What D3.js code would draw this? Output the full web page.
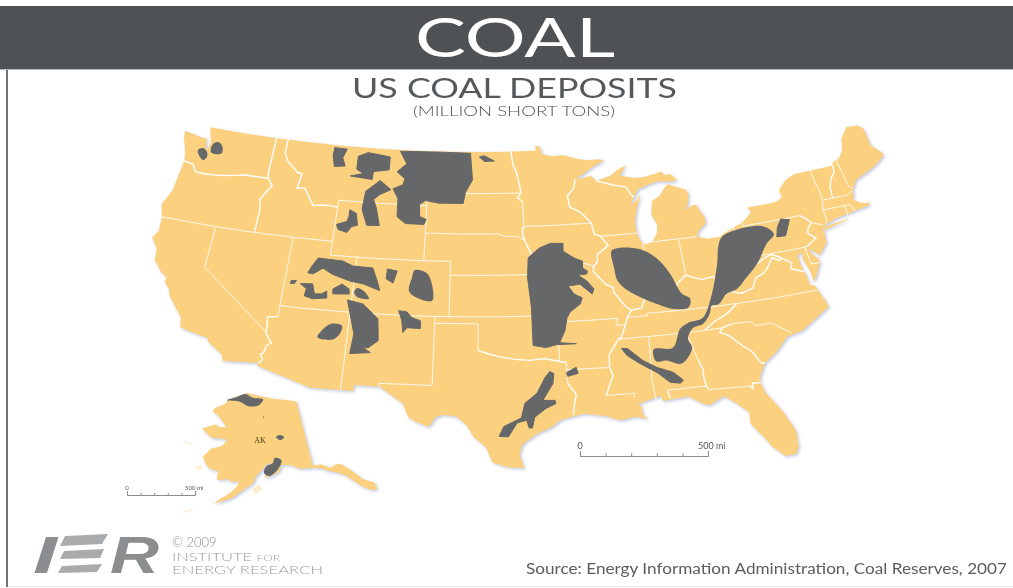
<!DOCTYPE html>
<html lang="en">
  <head>
    <meta charset="UTF-8" />
    <title>US Coal Deposits</title>
    <style>
      html, body { margin: 0; padding: 0; background: #fff; }
      svg { display: block; font-family: Lato, "Open Sans", sans-serif; filter: blur(0.35px); }
    </style>
  </head>
  <body>
    <svg width="1013" height="588" viewBox="0 0 1013 588"></svg>

    <script src="https://d3js.org/d3.v7.min.js"></script>
    <script>
      // All map data is [longitude, latitude]
      const usLand = [
        [-124.7,48.4],[-123.1,48.15],[-122.75,48.15],[-122.55,47.5],[-122.4,47.35],[-122.3,47.9],[-122.5,48.4],[-122.75,49],
        [-120,49],[-117,49],[-114,49],[-111,49],[-108,49],[-105,49],[-102,49],[-99,49],[-97,49],[-95.15,49],[-95.15,49.38],[-94.8,49.3],[-94.6,48.72],
        [-93.8,48.55],[-92.9,48.6],[-92,48.3],[-91,48.1],[-90,48.1],[-89.5,48],[-90.5,47.6],[-91.5,47.05],[-92.1,46.75],[-91.2,46.85],[-90.8,46.95],
        [-90.4,46.55],[-89.2,46.85],[-88.4,47.3],[-87.8,47.45],[-88.3,46.95],[-88.45,46.78],[-87.4,46.5],[-86.5,46.5],[-85,46.75],[-84.9,46.48],[-84.4,46.5],
        [-84.1,46.2],[-83.9,45.95],[-84.7,45.95],[-85.5,46.08],[-86.3,45.9],[-86.9,45.7],[-87.05,45.78],[-87.6,45.1],[-88,44.55],[-87.4,44.9],[-87.05,45.25],
        [-87.5,44.3],[-87.8,43.5],[-87.85,43],[-87.8,42.3],[-87.55,41.7],[-87.2,41.65],[-86.8,41.75],[-86.3,42.4],[-86.2,43],[-86.5,43.7],[-86.25,44.7],
        [-85.6,45],[-85.1,45.5],[-84.75,45.78],[-84.1,45.5],[-83.4,45.2],[-83.3,44.8],[-83.55,44.05],[-83.9,43.7],[-83.3,44],[-82.9,44.05],[-82.45,43],
        [-82.5,42.6],[-83.1,42.2],[-83.4,41.75],[-82.7,41.5],[-81.7,41.5],[-81.2,41.75],[-80.1,42.15],[-79.76,42.27],[-78.9,42.85],[-79.05,43.27],
        [-77.6,43.27],[-76.8,43.3],[-76.2,43.55],[-76.25,44.1],[-75.5,44.7],[-74.7,45],[-73,45],[-71.5,45],[-71.4,45.25],[-70.8,45.4],[-70.3,45.9],[-70,46.7],
        [-69.2,47.45],[-68.3,47.35],[-67.95,47.05],[-67.95,45.7],[-67.6,45.3],[-67.3,44.85],[-68.2,44.3],[-69,44],[-70.2,43.6],[-70.7,43.05],[-70.8,42.7],
        [-71,42.3],[-70.6,41.95],[-70.05,41.8],[-70,42.05],[-69.95,41.67],[-70.65,41.55],[-71.2,41.5],[-71.4,41.45],[-72.9,41.25],[-73.65,41],[-74,40.7],
        [-74,40.45],[-74.1,39.75],[-74.9,38.95],[-75.15,39.2],[-75.55,39.6],[-75.4,39.1],[-75.1,38.75],[-75.05,38.45],[-75.6,37.6],[-75.95,37.15],
        [-75.95,37.9],[-76.2,38.9],[-76.1,39.4],[-76.5,39.2],[-76.45,38.5],[-76.4,38.1],[-76.3,37.6],[-76.3,37],[-75.97,36.9],[-75.75,36.2],[-75.5,35.25],
        [-76.5,34.65],[-77.8,33.9],[-78.9,33.65],[-79.9,32.7],[-80.85,32.05],[-81.4,31.1],[-81.45,30.7],[-81.3,29.9],[-80.55,28.45],[-80.05,26.9],
        [-80.15,25.75],[-80.4,25.2],[-81.1,25.15],[-81.75,25.95],[-82.1,26.7],[-82.75,27.85],[-82.65,28.7],[-83.4,29.55],[-84,30.1],[-85,29.6],[-85.4,29.7],
        [-86.3,30.38],[-87.5,30.3],[-88,30.25],[-88.05,30.65],[-88.9,30.4],[-89.6,30.2],[-89.4,30],[-89.4,29.4],[-89.1,29.05],[-89.9,29.3],[-90.9,29.1],
        [-91.8,29.5],[-93.2,29.77],[-94.7,29.4],[-95.2,28.95],[-96.4,28.35],[-97.2,27.7],[-97.4,26.9],[-97.15,25.96],[-98.2,26.05],[-99.1,26.4],[-99.5,27.5],
        [-100.3,28.3],[-100.7,29.1],[-101.4,29.77],[-102.3,29.88],[-102.7,29.7],[-103.15,28.98],[-104,29.3],[-104.5,29.65],[-104.9,30.6],[-106.5,31.75],
        [-108.2,31.78],[-108.2,31.33],[-111.07,31.33],[-114.8,32.5],[-114.72,32.72],[-117.12,32.53],[-117.3,33],[-118.4,33.75],[-118.5,34.03],[-119.2,34.15],
        [-120.5,34.45],[-120.65,35.15],[-121.9,36.6],[-122,36.95],[-122.5,37.5],[-122.45,37.8],[-122.95,38.1],[-123.7,38.9],[-123.8,39.7],[-124.4,40.4],
        [-124.1,41],[-124.2,42],[-124.55,42.85],[-124.1,44],[-123.95,46.2],[-124.1,46.9],[-124.6,47.9]
      ];
      const longIsland = [[-74,40.6],[-72,41],[-71.9,41.07],[-73.7,40.87]];

      // straight survey lines between states
      const surveyLines = [
        [[-124.2,42],[-122,42],[-120,42],[-118,42],[-116,42],[-114,42],[-111.05,42]],
        [[-120,42],[-120,39],[-114.63,35]],
        [[-114.05,42],[-114.05,36.2]],
        [[-114.05,37],[-112,37],[-110,37],[-107,37],[-105,37],[-103,37],[-100,37],[-98,37],[-96,37],[-94.62,37]],
        [[-111.05,45],[-111.05,41],[-109.05,41],[-107,41],[-104.05,41]],
        [[-109.05,41],[-109.05,31.33]],
        [[-104.05,41],[-102.05,41],[-102.05,37]],
        [[-102.05,40],[-100,40],[-98,40],[-95.3,40]],
        [[-103.04,37],[-103.04,32],[-106.6,32],[-106.5,31.75]],
        [[-103,36.5],[-100,36.5],[-100,34.56]],
        [[-94.62,37],[-94.62,36.5],[-94.43,35.4],[-94.48,33.64]],
        [[-94.04,33.55],[-94.04,32]],
        [[-94.04,33.02],[-91.15,33]],
        [[-104.05,49],[-104.05,41]],
        [[-111.05,45],[-108,45],[-104.05,45]],
        [[-104.05,45.94],[-102,45.94],[-100,45.94],[-98,45.94],[-96.56,45.94]],
        [[-104.05,43],[-102,43],[-100,43],[-98.5,43],[-97.9,42.8],[-97,42.8],[-96.45,42.5]],
        [[-96.45,45.3],[-96.45,43.5],[-94,43.5],[-91.22,43.5]],
        [[-95.77,40.58],[-94,40.58],[-92,40.6],[-91.42,40.38]],
        [[-90.64,42.5],[-87.8,42.5]],
        [[-94.62,36.5],[-92,36.5],[-90.15,36.5],[-90.37,36],[-89.7,36]],
        [[-91.6,31],[-89.73,31],[-89.85,30.65]],
        [[-90.3,35],[-88.2,35],[-85.6,34.98],[-84.32,34.99],[-83.1,35]],
        [[-89.5,36.5],[-88.07,36.5],[-88.07,36.68],[-86,36.63],[-83.68,36.6],[-81.7,36.59],[-79,36.55],[-75.87,36.55]],
        [[-87.53,39.35],[-87.53,41.7]],
        [[-84.82,39.1],[-84.8,41.7]],
        [[-86.8,41.76],[-84.8,41.76],[-83.45,41.73]],
        [[-80.52,39.72],[-80.52,42]],
        [[-88.2,35],[-88.47,31.9],[-88.4,30.3]],
        [[-85.6,34.98],[-85.18,32.87]],
        [[-87.6,31],[-85,31]],[[-84.86,30.7],[-82.2,30.57]],
        [[-82.4,35.2],[-81.05,35.15],[-80.8,34.82],[-79.65,34.8],[-78.55,33.86]],
        [[-80.52,39.72],[-79.48,39.72],[-77,39.72],[-75.79,39.72]],
        [[-75.79,39.72],[-75.7,38.46],[-75.05,38.45]],
        [[-79.76,42.27],[-79.76,42],[-77,42],[-75.35,42]],
        [[-74.7,41.36],[-73.9,41]],
        [[-73.35,45],[-73.35,44],[-73.25,43.6],[-73.27,42.75],[-73.5,42.05],[-73.5,41.3],[-73.65,41]],
        [[-73.27,42.75],[-72.46,42.73],[-71.3,42.7],[-71,42.85],[-70.82,42.87]],
        [[-73.5,42.05],[-71.8,42.02],[-71.38,42.02],[-71.2,41.5]],
        [[-71.8,42.02],[-71.85,41.32]],
        [[-71.08,45.3],[-71,44],[-70.97,43.4],[-70.72,43.07]]
      ];

      // borders that follow rivers and ridges, drawn a bit heavier
      const riverLines = [
        [[-124,46.25],[-123.2,46.15],[-122.8,45.65],[-122.2,45.6],[-121.2,45.65],[-120.5,45.72],[-119.3,45.93],[-119,46],[-116.92,46]],
        [[-117.03,49],[-117.04,46.42],[-116.92,46],[-116.5,45.5],[-116.85,45],[-117.2,44.4],[-117.03,43.85],[-117.03,42]],
        [[-114.63,35],[-114.6,34.85],[-114.15,34.27],[-114.45,34],[-114.53,33.5],[-114.72,33.35],[-114.5,33],[-114.72,32.72]],
        [[-114.63,35],[-114.75,36.1],[-114.05,36.2]],
        [[-100,34.56],[-99.2,34.3],[-98.5,34.1],[-97.5,33.9],[-96.5,33.8],[-95.5,33.9],[-94.48,33.64],[-94.04,33.55]],
        [[-94.04,32],[-93.55,31.2],[-93.75,30.4],[-93.85,29.7]],
        [[-116.05,49],[-116.05,48],[-115.7,47.45],[-114.7,46.7],[-114.35,46.65],[-114.5,45.55],[-113.9,45.65],[-113.45,45.05],[-113,44.45],[-112.3,44.55],[-111.5,44.55],[-111.05,44.48]],
        [[-97.23,49],[-97.1,48],[-96.85,47.5],[-96.6,46.3],[-96.56,45.94],[-96.85,45.6],[-96.45,45.3]],
        [[-96.45,43.5],[-96.6,43.1],[-96.45,42.5],[-96.1,41.7],[-95.9,41.2],[-95.85,40.7],[-95.77,40.58],[-95.3,40],[-94.9,39.9],[-95.1,39.5],[-94.6,39.12],[-94.62,37]],
        [[-92.1,46.75],[-92.3,46.1],[-92.85,45.6],[-92.75,44.75],[-91.9,44.3],[-91.22,43.5],[-91.1,42.7],[-90.64,42.5],[-90.15,41.8],[-91.05,41.2],[-91.1,40.7],[-91.42,40.38],[-91.5,40],[-90.7,39],[-90.2,38.75],[-90.2,38.4],[-89.5,37.3],[-89.15,37],[-89.5,36.5],[-89.7,36],[-90.1,35.1],[-90.3,35],[-90.6,34.6],[-91.1,33.9],[-91.15,33],[-91,32.4],[-91.6,31]],
        [[-83.68,36.6],[-81.97,37.54],[-82.6,38.15],[-82.6,38.4]],
        [[-89.15,37],[-88.4,37.1],[-88.05,37.8],[-87,37.9],[-86.5,38],[-85.8,38.3],[-85.4,38.7],[-84.82,39.1],[-84.3,38.85],[-83.7,38.65],[-82.9,38.75],[-82.6,38.4],[-82,39],[-81.7,39.2],[-80.85,39.7],[-80.6,40.6],[-80.52,40.64]],
        [[-88.05,37.8],[-87.55,38.7],[-87.53,39.35]],
        [[-90.4,46.55],[-89.1,46.13],[-88.1,45.9],[-87.8,45.35],[-87.6,45.1]],
        [[-85.18,32.87],[-85,32.3],[-85.05,31.55],[-85,31],[-84.86,30.7]],
        [[-87.6,31],[-87.45,30.4]],
        [[-82.2,30.57],[-82.05,30.36],[-82,30.75],[-81.45,30.7]],
        [[-83.1,35],[-83.35,34.7],[-82.8,34.4],[-82,33.5],[-81.5,33],[-81.1,32.1],[-80.85,32.05]],
        [[-83.1,35],[-82.4,35.2]],
        [[-84.32,35],[-83.5,35.55],[-82.5,36],[-81.7,36.59]],
        [[-81.97,37.54],[-81.2,37.25],[-80.3,37.5],[-79.9,38.2],[-79.3,38.4],[-78.87,38.77],[-78.35,39.4],[-77.83,39.13],[-77.72,39.32]],
        [[-77.72,39.32],[-78.3,39.65],[-78.75,39.55],[-79.48,39.2],[-79.48,39.72]],
        [[-77.72,39.32],[-77.05,38.8],[-77.25,38.4],[-76.35,38]],
        [[-75.35,42],[-75.05,41.75],[-74.7,41.36],[-75.1,40.95],[-75.2,40.65],[-74.75,40.2],[-75.45,39.82],[-75.79,39.72]],
        [[-71.5,45],[-71.6,44.5],[-72.05,44.1],[-72.35,43.5],[-72.46,42.73]]
      ];

      const pugetWest = [[-123.15,47.22],[-122.8,47.42],[-122.38,47.19],[-122.26,46.84],[-122.51,46.57],[-122.95,46.87]];
      const pugetEast = [[-122.1,47.84],[-121.75,48.04],[-121.36,47.88],[-121.16,47.31],[-121.7,47.15],[-122.07,47.24]];
      const montanaNorth = [[-112.04,48.81],[-110.99,48.78],[-111.25,48.11],[-110.95,47.54],[-111.83,47.43],[-112.07,48.22]];
      const montanaCentral = [[-109.98,48.32],[-109.19,48.65],[-107.32,48.44],[-107.31,47.49],[-108.58,47.29],[-108.61,46.71],[-110.4,46.84],[-109.37,47.1],[-109.97,47.37]];
      const fortUnion = [[-106.52,48.9],[-103,48.95],[-100.63,48.9],[-100.45,46.93],[-101.01,46.03],[-101.18,45.22],[-103.12,45.21],[-104.18,45.37],[-104.65,45.06],[-104.56,44.19],[-104.05,44],[-104.19,43.63],[-105.64,43.64],[-106.33,44.11],[-106.38,45.42],[-106.85,46.12],[-106.07,46.46],[-105.96,46.9],[-106.64,47.38],[-105.9,48]];
      const dakotaSmall = [[-99.88,48.63],[-99.49,48.72],[-98.64,48.33],[-99.45,48.29]];
      const bighorn = [[-107.95,46.67],[-107.01,46.05],[-107.85,45.65],[-108.31,45.26],[-108,44.61],[-107.64,43.4],[-108.61,43.35],[-109.12,44.49],[-109.01,45.81]];
      const windRiver = [[-110.07,44.39],[-109.52,44.15],[-109.32,43.3],[-109.75,43.19],[-110.06,42.73],[-110.75,42.89],[-110.94,43.24],[-110.17,43.52],[-110.07,43.88]];
      const uinta = [[-111.91,40.7],[-110.05,40.64],[-109.27,40.34],[-107.79,40.3],[-107.37,39.4],[-107.12,38.7],[-108.36,39.11],[-109.34,39.24],[-110.72,39.64],[-111.44,40.01],[-112.11,39.53],[-112.49,39.57],[-112.27,40.09]];
      const utahSpeck = [[-113.58,38.9],[-113.21,38.93],[-113.33,38.7],[-113.62,38.68]];
      const kaiparowits = [[-112.89,38.74],[-112.01,38.81],[-111.77,38.11],[-111.26,38.15],[-110.92,38.39],[-110.84,37.89],[-111.85,37.74],[-112.47,37.9],[-112.4,38.42]];
      const moab = [[-109.89,38.98],[-109.33,38.66],[-109.28,38.31],[-110.45,38.22],[-110.5,38.57]];
      const tellurideArea = [[-108.76,38.78],[-108.29,38.61],[-107.83,38.07],[-108.57,38.08],[-108.93,38.41]];
      const sanJuan = [[-109.35,37.87],[-108.21,37.66],[-107.05,36.66],[-106.88,35.09],[-107.52,34.53],[-107.87,34.5],[-107.34,34.19],[-108.73,34.02],[-108.61,35.47],[-109.04,36.88]];
      const blackMesa = [[-110.22,36.08],[-109.5,35.98],[-109.58,35.4],[-110.02,34.94],[-111.08,35.01],[-110.85,35.53]];
      const northPark = [[-106.7,40.29],[-105.97,40.17],[-106.2,39.3],[-106.73,39.57]];
      const denver = [[-104.67,40.3],[-103.79,40.12],[-103.37,39.34],[-103.29,38.12],[-104.39,38.3],[-105,38.78],[-104.85,39.72]];
      const raton = [[-105.63,37.32],[-105.05,37.26],[-104.66,36.85],[-104.06,36.66],[-104.02,36.09],[-104.97,36.12],[-105.23,35.75],[-105.36,36.61]];
      const westernInterior = [[-96.24,41.22],[-95.38,41.89],[-94.48,42.21],[-93.54,42.16],[-93.59,41.59],[-92.78,41.04],[-92.21,40.79],[-92.26,40.29],[-91.92,40.05],[-92,39.85],[-92.66,39.81],[-92.05,39.35],[-91.6,38.74],[-91.77,38.39],[-92.58,39.15],[-93.45,39.06],[-93.07,38.46],[-92.51,38.15],[-92.7,37.72],[-93.47,37.18],[-93.73,36.76],[-93.95,35.84],[-94.38,35],[-93.24,34.87],[-94.61,34.87],[-95.35,34.69],[-96.21,34.88],[-96.19,37.61],[-96.36,39.78]];
      const illinoisBasin = [[-89.96,41.38],[-89.42,41.55],[-87.81,41.31],[-86.7,40.55],[-85.96,39.39],[-85.37,37.8],[-84.86,37.39],[-85.11,36.77],[-86.19,36.79],[-87.26,37.27],[-88.25,37.81],[-89.16,38.41],[-89.82,39.2],[-89.94,40.15]];
      const appalachian = [[-81.5,41.51],[-79.1,41.88],[-78.12,41.65],[-77.68,41.06],[-78.44,40.45],[-79.54,39.15],[-80.68,38.22],[-81.44,37.61],[-82.25,37.37],[-82.94,36.74],[-83.48,36.68],[-83.74,36.12],[-84.36,35.47],[-85.09,35.27],[-85.58,34.54],[-85.42,33.86],[-86.32,32.81],[-87.3,33.15],[-87.99,33.16],[-88.03,34.04],[-86.71,34.02],[-85.98,35.32],[-85.36,35.67],[-84.28,35.9],[-83.4,37.26],[-82.39,39.6],[-81.98,40.85]];
      const anthracite = [[-76.83,42.03],[-76.21,41.86],[-76.87,40.79],[-77.53,40.82],[-77.29,41.45]];
      const gulfMississippi = [[-90.2,34.31],[-89.8,34.27],[-88.87,33.31],[-88,32.71],[-86.99,32.25],[-86.42,31.61],[-86.64,31.41],[-87.3,31.55],[-88.05,32.35],[-89.1,33.11],[-89.88,33.77]];
      const louisianaSmall = [[-94.07,32.82],[-93.4,33.16],[-93.3,32.72],[-94.02,32.54]];
      const texasGulf = [[-95.18,32.95],[-94.93,32.79],[-95.03,32.07],[-95.76,30.87],[-94.97,30.84],[-94.92,30.61],[-95.59,30.28],[-96.35,29.66],[-96.53,28.88],[-96.73,28.89],[-96.88,29.46],[-97.49,29.28],[-98.07,28.28],[-98.66,28.31],[-98.35,29.03],[-97.21,29.63],[-96.94,30.7],[-96.12,31.4],[-95.53,32.52]];
      // blocky basins keep their corners, the others are drawn rounded
      const angularDeposits = [montanaNorth, montanaCentral, fortUnion, dakotaSmall, bighorn, windRiver, uinta, utahSpeck, kaiparowits, moab, sanJuan, northPark, raton, westernInterior, anthracite, louisianaSmall, texasGulf, gulfMississippi];
      const roundedDeposits = [pugetWest, pugetEast, tellurideArea, blackMesa, denver, illinoisBasin, appalachian];

      const alaskaLand = [
        [-156.5,71.35],[-152,70.85],[-148,70.4],[-144,70.05],[-141,69.65],[-141,65],[-141,60.3],[-139.2,60.3],[-137.5,59.6],[-136,59.9],[-135,59.8],[-133.5,58.8],[-131.8,57],[-130,56.2],[-130,55.2],
        [-131,55.2],[-132.5,56],[-133.5,56.9],[-135,58.2],[-136.5,58.8],[-138,59.2],[-139.5,59.75],[-141.5,60],[-144,60.1],[-146,60.8],[-148,60.9],[-148.5,60],[-150,59.5],[-151.8,59.2],
        [-151.7,60],[-150.5,61.1],[-149.8,61.3],[-151.5,61],[-152.5,60.2],[-153.8,59.3],[-154.2,58.5],[-156.3,57.4],[-158.5,56.2],[-160.5,55.6],[-161.8,55.2],[-160.8,56],[-159,56.9],
        [-157.6,57.9],[-157.3,58.7],[-158.8,58.5],[-159.8,58.9],[-162,58.6],[-162,59.9],[-164.3,60.2],[-165.3,61],[-166,61.7],[-164.5,63],[-162,63.5],[-161,64.4],[-162,64.5],[-165,64.5],[-168,65.6],
        [-164.5,66.5],[-163.7,66.1],[-161.7,66.2],[-163,67],[-164.2,67.6],[-166.5,68.35],[-165.5,68.9],[-163.2,69.5],[-162,70.3],[-159.5,70.8],[-157,71.2]
      ];
      const alaskaIslands = [
        [[-154.6,57.5],[-153,58.2],[-152.4,57.6],[-153.8,56.9]],
        [[-167,60.2],[-165.7,60.4],[-165.7,59.9],[-166.8,59.8]],
        [[-171.5,63.4],[-169,63.2],[-169.5,63.05],[-171,63.15]],
        [[-166.5,53.9],[-165,54.2],[-166.5,53.6],[-168,53.3]]
      ];
      const northSlope = [[-162.77,70.06],[-159.6,70.7],[-157.05,71.17],[-154.5,70.63],[-151.3,70.39],[-152.9,69.5],[-156.1,69.43],[-158.6,70]];
      const yukonFlats = [[-148.5,64.9],[-147.46,65.15],[-146.4,64.82],[-147.46,64.43]];
      const cookInlet = [[-149.34,61.94],[-147.79,61.57],[-149.01,60.19],[-150.88,59.42],[-151.96,59.88],[-151.45,60.75],[-149.84,61.23]];
      const alaskaDot = [[-151.6,67.9],[-151.3,67.9],[-151.3,67.75],[-151.6,67.75]];
      const alaskaDeposits = [northSlope, yukonFlats, cookInlet, alaskaDot];

      const scaleMiles = [0, 100, 200, 300, 400, 500];

      const svg = d3.select("svg");

      // Defs
      const defs = svg.append("defs");
      const shadow = defs.append("filter").attr("id", "coast").attr("x", "-5%").attr("y", "-5%").attr("width", "110%").attr("height", "110%");
      shadow.append("feDropShadow").attr("dx", 1.5).attr("dy", 1.5).attr("stdDeviation", 1.4).attr("flood-color", "#c3cadb");

      // Frame and header
      svg.append("rect").attr("x", 0).attr("y", 6).attr("width", 1013).attr("height", 63).attr("fill", "#4e5254");
      svg.append("rect").attr("x", 0).attr("y", 69).attr("width", 1013).attr("height", 1).attr("fill", "#b9bbbb");
      svg.append("rect").attr("x", 6).attr("y", 70).attr("width", 2).attr("height", 517).attr("fill", "#6f7375");
      svg.append("rect").attr("x", 8).attr("y", 586).attr("width", 1005).attr("height", 1).attr("fill", "#dfe1e2");

      svg.append("text").attr("x", 515).attr("y", 57).attr("text-anchor", "middle").attr("fill", "#fff")
        .attr("font-size", 54).attr("textLength", 200).attr("lengthAdjust", "spacingAndGlyphs").text("COAL");
      svg.append("text").attr("x", 514.5).attr("y", 98).attr("text-anchor", "middle").attr("fill", "#55595b")
        .attr("font-size", 26).attr("textLength", 325).attr("lengthAdjust", "spacingAndGlyphs").text("US COAL DEPOSITS");
      svg.append("text").attr("x", 514).attr("y", 116).attr("text-anchor", "middle").attr("fill", "#4e5254")
        .attr("font-size", 13).attr("font-weight", 300).attr("textLength", 202).attr("lengthAdjust", "spacingAndGlyphs").text("(MILLION SHORT TONS)");

      // Projections: the picture is squeezed vertically, so x and y get their own scale
      const usProjection = d3.geoConicEqualArea().parallels([29.5, 45.5]).rotate([100, 0]).center([0, 37.5]).scale(1).translate([0, 0]);
      const usX = d3.scaleLinear().domain([0, 1]).range([478, 1503]);
      const usY = d3.scaleLinear().domain([0, 1]).range([310, 1095]);
      const akProjection = d3.geoConicEqualArea().parallels([55, 65]).rotate([154, 0]).center([0, 64]).scale(1).translate([0, 0]);
      const akX = d3.scaleLinear().domain([0, 1]).range([254.6, 779.6]);
      const akY = d3.scaleLinear().domain([0, 1]).range([444, 846]);

      const usLine = d3.line().x((d) => usX(usProjection(d)[0])).y((d) => usY(usProjection(d)[1]));
      const akLine = d3.line().x((d) => akX(akProjection(d)[0])).y((d) => akY(akProjection(d)[1]));
      const blob = d3.curveCatmullRomClosed.alpha(0.5);
      const usBlob = d3.line().curve(blob).x((d) => usX(usProjection(d)[0])).y((d) => usY(usProjection(d)[1]));
      const akBlob = d3.line().curve(blob).x((d) => akX(akProjection(d)[0])).y((d) => akY(akProjection(d)[1]));

      const LAND = "#fbd17f";
      const COAL = "#666768";

      // Land
      const land = svg.append("g").attr("filter", "url(#coast)");
      land.selectAll(".us").data([usLand, longIsland]).enter().append("path").attr("class", "us")
        .attr("d", (d) => usLine(d) + "Z").attr("fill", LAND);
      land.append("path").attr("d", akLine(alaskaLand) + "Z").attr("fill", LAND);
      svg.append("g").attr("fill", LAND).attr("opacity", 0.4).selectAll("path").data(alaskaIslands).enter().append("path")
        .attr("d", (d) => akLine(d) + "Z");

      // State borders
      svg.append("g").attr("fill", "none").attr("stroke", "#fff").attr("stroke-opacity", 0.85).attr("stroke-width", 1)
        .selectAll("path").data(surveyLines).enter().append("path").attr("d", usLine);
      svg.append("g").attr("fill", "none").attr("stroke", "#fff").attr("stroke-width", 1.4)
        .selectAll("path").data(riverLines).enter().append("path").attr("d", usLine);

      // Coal deposits
      svg.append("g").selectAll("path").data(angularDeposits).enter().append("path")
        .attr("d", (d) => usLine(d) + "Z").attr("fill", COAL).attr("stroke", COAL).attr("stroke-width", 1).attr("stroke-linejoin", "round");
      svg.append("g").selectAll("path").data(roundedDeposits).enter().append("path")
        .attr("d", usBlob).attr("fill", COAL);
      svg.append("g").selectAll("path").data(alaskaDeposits).enter().append("path")
        .attr("d", akBlob).attr("fill", COAL);

      svg.append("text").attr("x", 260).attr("y", 443).attr("text-anchor", "middle").attr("fill", "#4a3a18")
        .attr("font-family", "Liberation Serif").attr("font-size", 8).text("AK");

      // Scale bars
      function scaleBar(x0, x1, y, labelSize, labelY) {
        const miles = d3.scaleLinear().domain([0, 500]).range([x0, x1]);
        const axis = d3.axisTop(miles).tickValues(scaleMiles).tickFormat("").tickSize(labelSize > 7 ? 3 : 2).tickSizeOuter(labelSize > 7 ? 5 : 4);
        const g = svg.append("g").attr("transform", `translate(0,${y})`).call(axis);
        g.selectAll("path,line").attr("stroke", "#8a8d90");
        svg.append("text").attr("x", x0).attr("y", labelY).attr("text-anchor", "middle").attr("font-size", labelSize).attr("fill", "#555").text("0");
        svg.append("text").attr("x", x1 - 10).attr("y", labelY).attr("font-size", labelSize).attr("fill", "#555").text("500 mi");
      }
      scaleBar(580, 708, 456, 9, 449);
      scaleBar(127, 195, 495, 6, 490);

      // IER logo
      const logoBars = [
        [[65,536],[108,534],[102,544],[60,546]],
        [[64,551],[104,549],[100,558],[60,559]],
        [[62,566],[102,564],[97,572],[58,573]]
      ];
      const logo = svg.append("g").attr("font-family", "Liberation Sans").attr("font-weight", 700).attr("font-style", "italic").attr("font-size", 52).attr("fill", "#8b8d8e");
      logo.append("text").attr("x", 33).attr("y", 573).attr("textLength", 24).attr("lengthAdjust", "spacingAndGlyphs").text("I");
      logo.append("text").attr("x", 110).attr("y", 573).attr("textLength", 49).attr("lengthAdjust", "spacingAndGlyphs").text("R");
      svg.append("g").selectAll("path").data(logoBars).enter().append("path")
        .attr("d", (d) => d3.line()(d) + "Z").attr("fill", "#a9abac");

      const credit = svg.append("g").attr("fill", "#9a9c9d").attr("font-weight", 300);
      credit.append("text").attr("x", 172).attr("y", 547).attr("font-size", 13).attr("fill", "#8b8d8e").text("© 2009");
      credit.append("text").attr("x", 172).attr("y", 560.5).attr("font-size", 11).attr("textLength", 108).attr("lengthAdjust", "spacingAndGlyphs")
        .html('INSTITUTE <tspan font-size="8">FOR</tspan>');
      credit.append("text").attr("x", 172).attr("y", 573.5).attr("font-size", 11).attr("textLength", 151).attr("lengthAdjust", "spacingAndGlyphs").text("ENERGY RESEARCH");

      svg.append("text").attr("x", 526).attr("y", 574).attr("fill", "#5a5c5d").attr("font-size", 14.5)
        .attr("textLength", 481).attr("lengthAdjust", "spacingAndGlyphs").text("Source: Energy Information Administration, Coal Reserves, 2007");
    </script>
  </body>
</html>
